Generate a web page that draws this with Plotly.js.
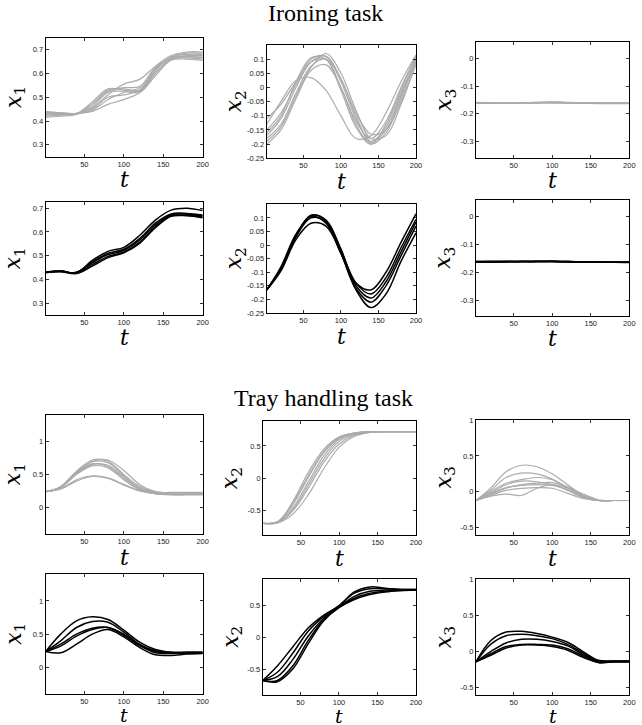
<!DOCTYPE html>
<html><head><meta charset="utf-8">
<script src="https://cdn.plot.ly/plotly-3.0.1.min.js"></script>
<style>html,body{margin:0;padding:0;background:#fff}#plot{width:642px;height:725px}</style>
</head><body><div id="plot"></div>
<script>
// time samples
const t = [1,20,40,60,80,100,120,140,160,180,200];
const xTicks = [50,100,150,200];

// ---- Ironing task: demonstrations (gray) ----
const ironX1Demo = [
 [0.435,0.432,0.430,0.470,0.530,0.535,0.530,0.610,0.670,0.680,0.680],
 [0.425,0.428,0.430,0.480,0.535,0.530,0.525,0.600,0.660,0.670,0.665],
 [0.440,0.435,0.432,0.455,0.510,0.555,0.575,0.630,0.675,0.690,0.690],
 [0.420,0.425,0.430,0.445,0.490,0.520,0.540,0.620,0.665,0.675,0.675],
 [0.430,0.430,0.432,0.440,0.470,0.490,0.520,0.600,0.660,0.665,0.660],
 [0.415,0.420,0.428,0.460,0.520,0.525,0.520,0.590,0.655,0.660,0.655],
 [0.438,0.434,0.430,0.450,0.500,0.510,0.530,0.615,0.665,0.670,0.668],
 [0.428,0.430,0.431,0.470,0.525,0.540,0.545,0.625,0.668,0.685,0.685]
];
const ironX2Demo = [
 [-0.110,-0.060,0.020,0.090,0.100,0.000,-0.120,-0.180,-0.120,0.000,0.110],
 [-0.150,-0.090,0.010,0.100,0.110,0.020,-0.110,-0.190,-0.140,-0.020,0.100],
 [-0.190,-0.140,-0.030,0.070,0.120,0.050,-0.080,-0.180,-0.170,-0.060,0.090],
 [-0.130,-0.050,0.025,0.035,-0.010,-0.100,-0.180,-0.170,-0.090,0.020,0.115],
 [-0.170,-0.110,0.000,0.090,0.110,0.030,-0.100,-0.195,-0.150,-0.030,0.105],
 [-0.200,-0.150,-0.040,0.060,0.080,0.000,-0.130,-0.200,-0.160,-0.040,0.095],
 [-0.160,-0.100,0.020,0.105,0.100,-0.010,-0.140,-0.200,-0.130,-0.010,0.115],
 [-0.180,-0.130,-0.020,0.075,0.100,0.030,-0.090,-0.165,-0.150,-0.050,0.080]
];
const ironX3Demo = [
 [-0.160,-0.160,-0.160,-0.160,-0.159,-0.158,-0.160,-0.162,-0.162,-0.162,-0.162],
 [-0.161,-0.160,-0.160,-0.160,-0.160,-0.159,-0.160,-0.161,-0.162,-0.162,-0.162],
 [-0.160,-0.161,-0.161,-0.160,-0.160,-0.160,-0.161,-0.162,-0.163,-0.163,-0.163],
 [-0.159,-0.160,-0.160,-0.160,-0.159,-0.157,-0.159,-0.161,-0.162,-0.162,-0.162],
 [-0.161,-0.161,-0.160,-0.160,-0.160,-0.160,-0.160,-0.161,-0.161,-0.162,-0.162]
];
// ---- Ironing task: reproductions (black) ----
const ironX1Repro = [
 [0.430,0.435,0.428,0.480,0.518,0.535,0.585,0.650,0.692,0.700,0.690],
 [0.432,0.433,0.430,0.470,0.505,0.522,0.565,0.630,0.672,0.675,0.668],
 [0.428,0.436,0.426,0.462,0.497,0.515,0.556,0.622,0.668,0.670,0.663],
 [0.431,0.434,0.429,0.474,0.510,0.527,0.572,0.637,0.676,0.678,0.671],
 [0.429,0.432,0.425,0.456,0.492,0.512,0.552,0.618,0.666,0.668,0.660]
];
const ironX2Repro = [
 [-0.165,-0.080,0.040,0.105,0.080,-0.030,-0.140,-0.165,-0.100,0.010,0.115],
 [-0.165,-0.085,0.035,0.110,0.090,-0.020,-0.140,-0.180,-0.120,-0.010,0.095],
 [-0.165,-0.090,0.030,0.100,0.085,-0.030,-0.160,-0.210,-0.150,-0.040,0.070],
 [-0.165,-0.095,0.020,0.080,0.070,-0.030,-0.165,-0.230,-0.180,-0.060,0.045],
 [-0.165,-0.088,0.032,0.108,0.092,-0.015,-0.150,-0.195,-0.135,-0.025,0.085]
];
const ironX3Repro = [
 [-0.162,-0.161,-0.161,-0.161,-0.161,-0.161,-0.162,-0.163,-0.163,-0.163,-0.163],
 [-0.161,-0.161,-0.161,-0.161,-0.161,-0.160,-0.161,-0.162,-0.163,-0.163,-0.163],
 [-0.163,-0.162,-0.161,-0.161,-0.161,-0.161,-0.162,-0.162,-0.163,-0.163,-0.164],
 [-0.162,-0.162,-0.162,-0.161,-0.161,-0.161,-0.161,-0.162,-0.162,-0.163,-0.163],
 [-0.161,-0.161,-0.161,-0.161,-0.160,-0.160,-0.161,-0.162,-0.163,-0.163,-0.163]
];
// ---- Tray handling task: demonstrations (gray) ----
const trayX1Demo = [
 [0.24,0.32,0.55,0.72,0.70,0.50,0.32,0.24,0.22,0.22,0.22],
 [0.24,0.31,0.53,0.69,0.68,0.48,0.30,0.23,0.21,0.21,0.21],
 [0.24,0.30,0.51,0.65,0.64,0.46,0.29,0.22,0.20,0.20,0.20],
 [0.24,0.30,0.50,0.63,0.60,0.42,0.27,0.21,0.20,0.20,0.20],
 [0.24,0.28,0.42,0.48,0.45,0.35,0.26,0.22,0.23,0.23,0.23],
 [0.24,0.28,0.40,0.47,0.44,0.34,0.25,0.21,0.22,0.22,0.22],
 [0.24,0.31,0.53,0.70,0.72,0.56,0.35,0.24,0.22,0.22,0.22],
 [0.24,0.30,0.52,0.66,0.62,0.44,0.28,0.21,0.19,0.19,0.19]
];
const trayX2Demo = [
 [-0.70,-0.68,-0.35,0.10,0.45,0.64,0.70,0.72,0.72,0.72,0.72],
 [-0.70,-0.67,-0.40,0.02,0.40,0.62,0.70,0.72,0.72,0.72,0.72],
 [-0.70,-0.68,-0.45,-0.05,0.35,0.60,0.69,0.72,0.72,0.72,0.72],
 [-0.70,-0.69,-0.50,-0.15,0.25,0.53,0.67,0.71,0.72,0.72,0.72],
 [-0.70,-0.69,-0.55,-0.25,0.15,0.48,0.65,0.71,0.72,0.72,0.72],
 [-0.70,-0.67,-0.38,0.05,0.42,0.63,0.70,0.72,0.72,0.72,0.72],
 [-0.70,-0.69,-0.48,-0.10,0.30,0.57,0.68,0.71,0.72,0.72,0.72]
];
const trayX3Demo = [
 [-0.12,0.05,0.28,0.37,0.35,0.25,0.10,-0.05,-0.12,-0.12,-0.12],
 [-0.12,0.02,0.20,0.26,0.25,0.18,0.05,-0.07,-0.12,-0.12,-0.12],
 [-0.12,0.00,0.12,0.17,0.20,0.17,0.06,-0.06,-0.12,-0.12,-0.12],
 [-0.12,-0.02,0.10,0.15,0.14,0.10,0.02,-0.08,-0.12,-0.12,-0.12],
 [-0.12,-0.03,0.06,0.09,0.10,0.09,0.03,-0.07,-0.12,-0.12,-0.12],
 [-0.12,-0.05,0.02,0.05,0.06,0.05,-0.02,-0.09,-0.12,-0.12,-0.12],
 [-0.12,-0.06,-0.03,-0.05,0.05,0.10,0.05,-0.05,-0.12,-0.12,-0.12],
 [-0.12,-0.04,0.05,0.10,0.12,0.13,0.07,-0.03,-0.11,-0.12,-0.12]
];
// ---- Tray handling task: reproductions (black) ----
const trayX1Repro = [
 [0.24,0.50,0.70,0.76,0.72,0.56,0.38,0.27,0.23,0.23,0.23],
 [0.24,0.40,0.60,0.69,0.68,0.53,0.35,0.25,0.22,0.22,0.22],
 [0.24,0.35,0.50,0.59,0.60,0.48,0.33,0.24,0.22,0.22,0.22],
 [0.24,0.32,0.47,0.57,0.60,0.50,0.33,0.22,0.21,0.22,0.22],
 [0.24,0.22,0.35,0.50,0.57,0.46,0.30,0.19,0.18,0.20,0.21]
];
const trayX2Repro = [
 [-0.68,-0.45,-0.15,0.15,0.35,0.50,0.72,0.80,0.78,0.76,0.76],
 [-0.68,-0.55,-0.25,0.10,0.33,0.50,0.70,0.77,0.77,0.76,0.76],
 [-0.68,-0.62,-0.35,0.02,0.30,0.48,0.65,0.73,0.75,0.75,0.75],
 [-0.68,-0.68,-0.45,-0.05,0.28,0.48,0.62,0.70,0.73,0.75,0.75],
 [-0.68,-0.70,-0.50,-0.10,0.26,0.47,0.60,0.68,0.72,0.74,0.75]
];
const trayX3Repro = [
 [-0.14,0.15,0.27,0.28,0.25,0.20,0.13,0.00,-0.12,-0.13,-0.13],
 [-0.14,0.10,0.22,0.24,0.22,0.18,0.10,-0.02,-0.13,-0.13,-0.13],
 [-0.14,0.00,0.12,0.17,0.17,0.14,0.08,-0.04,-0.14,-0.14,-0.14],
 [-0.14,-0.03,0.07,0.10,0.10,0.09,0.04,-0.06,-0.15,-0.14,-0.14],
 [-0.14,-0.05,0.05,0.09,0.09,0.07,0.02,-0.08,-0.15,-0.14,-0.14]
];

// tick labels
const yTicksIron1 = [0.3,0.4,0.5,0.6,0.7];
const yTicksIron2 = [-0.25,-0.2,-0.15,-0.1,-0.05,0,0.05,0.1];
const yTicksIron3 = [-0.3,-0.2,-0.1,0];
const yTicksTray1 = [0,0.5,1];
const yTicksTray2 = [-0.5,0,0.5];
const yTicksTray3 = [-0.5,0,0.5,1];

const taskTitles = ['Ironing task','Tray handling task'];

// ---------- layout geometry (pixels) ----------
const W = 642, H = 725;
const GRAY = '#ababab', BLACK = '#000000';
const panels = [
 {d: ironX1Demo,  c: GRAY,  w:1.2, box:[45.7,202.7,37.7,156.7], yr:[0.25,0.75], yt: yTicksIron1, lab:1},
 {d: ironX2Demo,  c: GRAY,  w:1.2, box:[266.7,416,45,158.3],    yr:[-0.25,0.15], yt: yTicksIron2, lab:2},
 {d: ironX3Demo,  c: GRAY,  w:1.4, box:[476,629.3,42.3,157.7],  yr:[-0.36,0.06], yt: yTicksIron3, lab:3},
 {d: ironX1Repro, c: BLACK, w:1.5, box:[45.7,202.7,202.3,315],  yr:[0.25,0.725], yt: yTicksIron1, lab:1},
 {d: ironX2Repro, c: BLACK, w:1.5, box:[266.7,416,204.3,313],   yr:[-0.25,0.15], yt: yTicksIron2, lab:2},
 {d: ironX3Repro, c: BLACK, w:1.5, box:[476,629.3,200,315.7],   yr:[-0.355,0.06], yt: yTicksIron3, lab:3},
 {d: trayX1Demo,  c: GRAY,  w:1.2, box:[45.7,202.7,415,534],    yr:[-0.4,1.4], yt: yTicksTray1, lab:1},
 {d: trayX2Demo,  c: GRAY,  w:1.2, box:[263.3,416,420.7,535],   yr:[-0.88,0.89], yt: yTicksTray2, lab:2},
 {d: trayX3Demo,  c: GRAY,  w:1.2, box:[476,629.3,420,535],     yr:[-0.6,1], yt: yTicksTray3, lab:3},
 {d: trayX1Repro, c: BLACK, w:1.5, box:[45.7,202.7,574.3,694],  yr:[-0.4,1.4], yt: yTicksTray1, lab:1},
 {d: trayX2Repro, c: BLACK, w:1.5, box:[262.7,416,579.3,695],   yr:[-0.91,0.92], yt: yTicksTray2, lab:2},
 {d: trayX3Repro, c: BLACK, w:1.5, box:[476,629.3,579.3,695],   yr:[-0.6,1], yt: yTicksTray3, lab:3}
];

const fmt = v => String(v).replace('−','-');
const tickFont = {family:'Liberation Sans, Arial, sans-serif', size:7.5, color:'#222'};
const serif = 'DejaVu Serif, Liberation Serif, serif';
const titleSerif = 'Liberation Serif, Times New Roman, serif';

const traces = [];
const layout = {
  width: W, height: H, margin:{l:0,r:0,t:0,b:0},
  paper_bgcolor:'#fff', plot_bgcolor:'#fff', showlegend:false,
  annotations: [],
};
panels.forEach((p, i) => {
  const n = i + 1;
  const xa = n === 1 ? 'xaxis' : 'xaxis' + n;
  const ya = n === 1 ? 'yaxis' : 'yaxis' + n;
  const xr = n === 1 ? 'x' : 'x' + n;
  const yr = n === 1 ? 'y' : 'y' + n;
  p.d.forEach(series => {
    traces.push({x: t, y: series, xaxis: xr, yaxis: yr, type:'scatter', mode:'lines',
      line:{color:p.c, width:p.w, shape:'spline', smoothing:1}, hoverinfo:'skip'});
  });
  const [x0,x1,y0,y1] = p.box;
  const common = {showline:true, linecolor:'#000', linewidth:1.1, mirror:'ticks', ticks:'inside',
    ticklen:3, tickwidth:0.8, tickcolor:'#000', showgrid:false, zeroline:false, tickfont:tickFont,
    automargin:false, fixedrange:true};
  layout[xa] = Object.assign({}, common, {domain:[x0/W, x1/W], range:[1,200], tickvals:xTicks,
    ticktext: xTicks.map(String), anchor: yr});
  layout[ya] = Object.assign({}, common, {domain:[1-y1/H, 1-y0/H], range:p.yr, tickvals:p.yt,
    ticktext: p.yt.map(fmt), anchor: xr});
  // y label x_k
  layout.annotations.push({xref:'paper', yref:'paper', x:(x0-31)/W, y:1-((y0+y1)/2)/H,
    xanchor:'center', yanchor:'middle', textangle:-90, showarrow:false,
    text:'<i>x</i><sub>' + p.lab + '</sub>', font:{family:serif, size:22, color:'#000'}});
  // t label
  const last = y1 > 650;
  layout.annotations.push({xref:'paper', yref:'paper', x:((x0+x1)/2)/W, y:1-(y1+(last ? 21 : 23))/H,
    xanchor:'center', yanchor:'middle', showarrow:false,
    text:'<i>t</i>', font:{family:serif, size:last ? 19 : 22, color:'#000'}});
});
layout.annotations.push({xref:'paper', yref:'paper', x:325/W, y:1-13/H, xanchor:'center', yanchor:'middle',
  showarrow:false, text:taskTitles[0], font:{family:titleSerif, size:24, color:'#000'}});
layout.annotations.push({xref:'paper', yref:'paper', x:323/W, y:1-398/H, xanchor:'center', yanchor:'middle',
  showarrow:false, text:taskTitles[1], font:{family:titleSerif, size:24, color:'#000'}});

Plotly.newPlot('plot', traces, layout, {staticPlot:true, displayModeBar:false});
</script></body></html>
